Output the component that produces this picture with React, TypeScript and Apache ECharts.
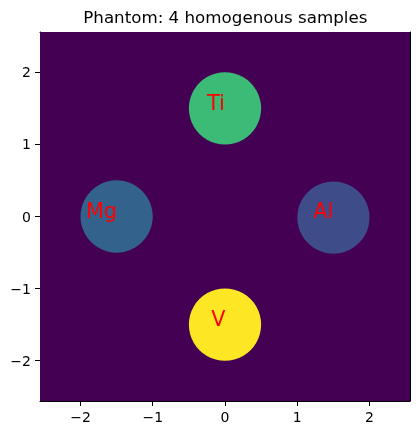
import React, { useEffect, useRef } from "react";
import * as echarts from "echarts";

const extent: number[] = [-2.56, 2.56];
const tickValues: number[] = [-2, -1, 0, 1, 2];
const sampleNames: string[] = ["Ti", "Mg", "Al", "V"];
const sampleX: number[] = [0, -1.5, 1.5, 0];
const sampleY: number[] = [1.5, 0, 0, -1.5];
const sampleRadius: number[] = [0.5, 0.5, 0.5, 0.5];
const sampleColors: string[] = ["#3bbb75", "#33638d", "#3e4c8a", "#fde725"];
const labelX: number[] = [-0.25, -1.925, 1.22, -0.19];
const labelY: number[] = [1.5, 0, 0, -1.5];
const backgroundColor = "#440154";

const fmt = (v: number) => String(v).replace("-", "\u2212");
const FONT = "DejaVu Sans";

export default function App() {
  const ref = useRef<HTMLDivElement>(null);
  useEffect(() => {
    document.body.style.margin = "0";
    const chart = echarts.init(ref.current!, null, { renderer: "svg" });
    const axisCommon = {
      type: "value" as const,
      min: extent[0],
      max: extent[1],
      splitLine: { show: false },
      axisLine: { show: true, onZero: false, lineStyle: { color: "#000", width: 1 } },
      axisTick: { show: true, length: 5, lineStyle: { color: "#000" }, customValues: tickValues },
      axisLabel: {
        show: true,
        color: "#000",
        fontFamily: FONT,
        fontSize: 14,
        customValues: tickValues,
        formatter: (v: number) => fmt(v),
      },
    };
    chart.setOption({
      animation: false,
      graphic: [
        {
          type: "text",
          x: 225.3,
          y: 25,
          style: {
            text: "Phantom: 4 homogenous samples",
            fontFamily: FONT,
            fontSize: 16.7,
            fill: "#000",
            align: "center",
            verticalAlign: "bottom",
          },
        },
      ],
      grid: { left: 40, right: 9, top: 32, bottom: 34 },
      xAxis: [
        { ...axisCommon, position: "bottom", axisLabel: { ...axisCommon.axisLabel, margin: 9 } },
        {
          type: "value",
          min: extent[0],
          max: extent[1],
          position: "top",
          splitLine: { show: false },
          axisLine: { show: true, onZero: false, lineStyle: { color: "#000", width: 1 } },
          axisTick: { show: false },
          axisLabel: { show: false },
        },
      ],
      yAxis: [
        { ...axisCommon, position: "left", axisLabel: { ...axisCommon.axisLabel, margin: 9 } },
        {
          type: "value",
          min: extent[0],
          max: extent[1],
          position: "right",
          splitLine: { show: false },
          axisLine: { show: true, onZero: false, lineStyle: { color: "#000", width: 1 } },
          axisTick: { show: false },
          axisLabel: { show: false },
        },
      ],
      series: [
        {
          type: "custom",
          z: 1,
          data: [[extent[0], extent[1], extent[1], extent[0]]],
          renderItem: (params: any, api: any) => {
            const p0 = api.coord([api.value(0), api.value(1)]);
            const p1 = api.coord([api.value(2), api.value(3)]);
            return {
              type: "rect",
              shape: { x: p0[0], y: p0[1], width: p1[0] - p0[0], height: p1[1] - p0[1] },
              style: { fill: backgroundColor },
            };
          },
        },
        {
          type: "custom",
          z: 2,
          data: sampleNames.map((n, i) => [sampleX[i], sampleY[i], sampleRadius[i], i]),
          renderItem: (params: any, api: any) => {
            const c = api.coord([api.value(0), api.value(1)]);
            const s = api.size([api.value(2), api.value(2)]);
            return {
              type: "circle",
              shape: { cx: c[0], cy: c[1], r: s[0] },
              style: { fill: sampleColors[api.value(3)] },
            };
          },
        },
        {
          type: "custom",
          z: 3,
          data: sampleNames.map((n, i) => [labelX[i], labelY[i], i]),
          renderItem: (params: any, api: any) => {
            const c = api.coord([api.value(0), api.value(1)]);
            return {
              type: "text",
              x: c[0],
              y: c[1] + 5,
              style: {
                text: sampleNames[api.value(2)],
                fill: "#ff0000",
                fontFamily: FONT,
                fontSize: 20.8,
                align: "left",
                verticalAlign: "bottom",
              },
            };
          },
        },
      ],
    });
    return () => chart.dispose();
  }, []);
  return <div ref={ref} style={{ width: 419, height: 435, position: "fixed", left: 0, top: 0 }} />;
}
